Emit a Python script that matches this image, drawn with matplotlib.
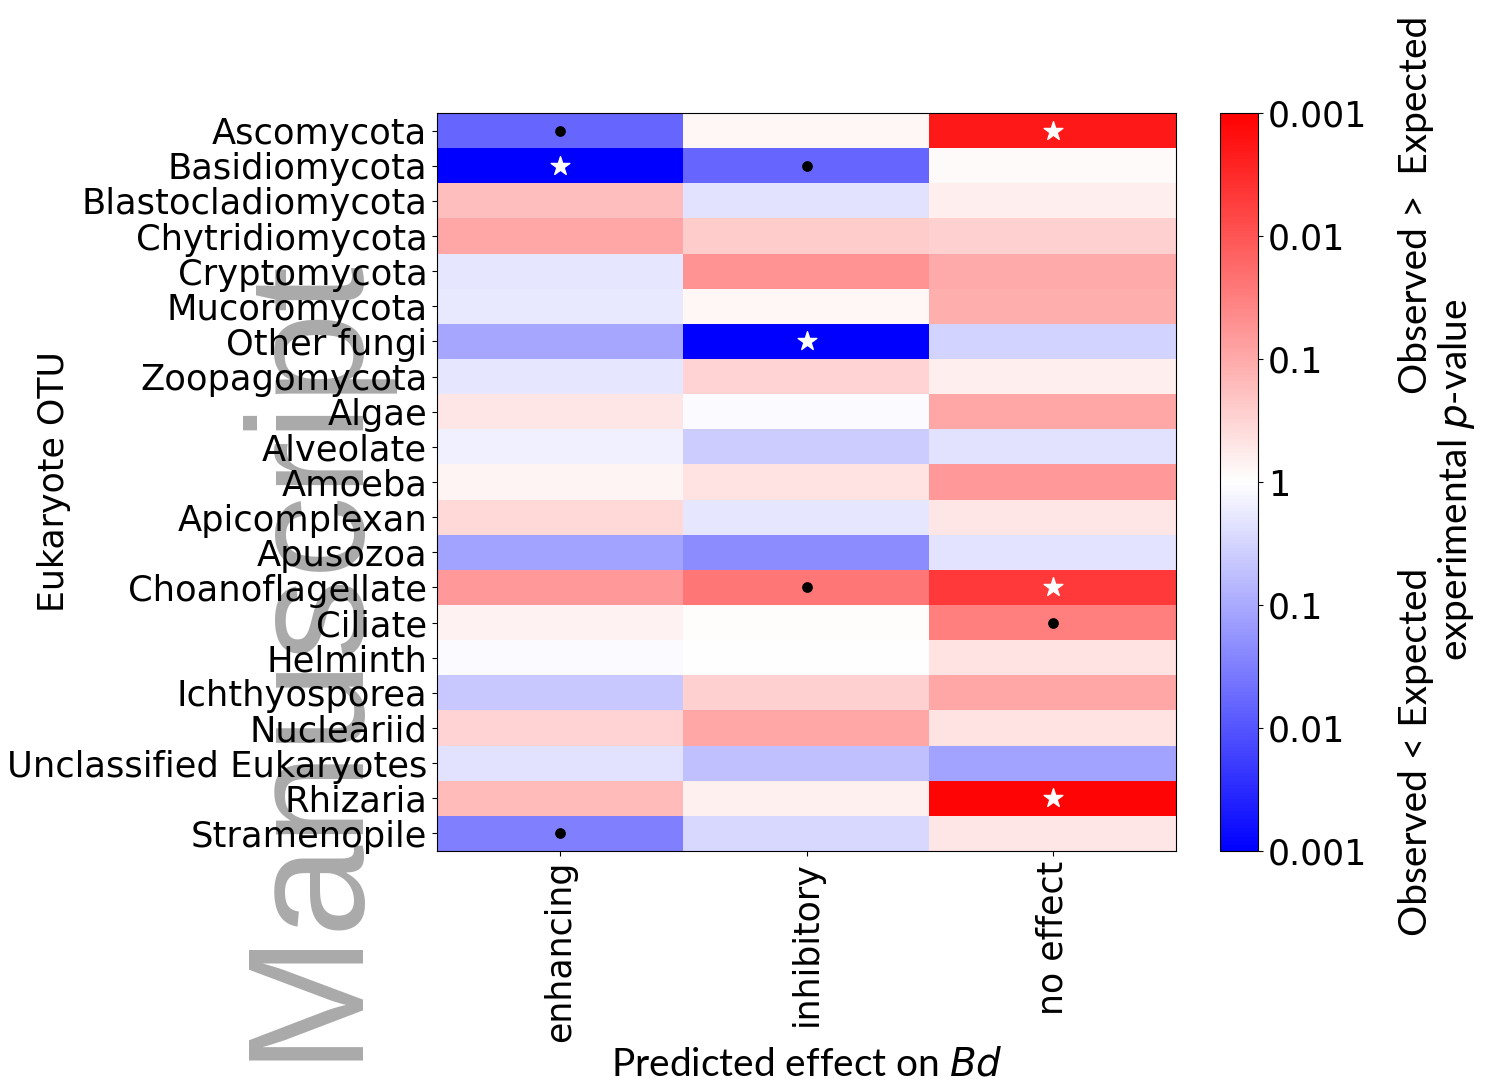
import numpy as np
import matplotlib
matplotlib.use("Agg")
import matplotlib.pyplot as plt

# signed log10 p-values: + means observed > expected, - means observed < expected
taxa = [
    "Ascomycota", "Basidiomycota", "Blastocladiomycota", "Chytridiomycota",
    "Cryptomycota", "Mucoromycota", "Other fungi", "Zoopagomycota", "Algae",
    "Alveolate", "Amoeba", "Apicomplexan", "Apusozoa", "Choanoflagellate",
    "Ciliate", "Helminth", "Ichthyosporea", "Nucleariid",
    "Unclassified Eukaryotes", "Rhizaria", "Stramenopile",
]
effects = ["enhancing", "inhibitory", "no effect"]

enhancing = [-1.8, -3.0, 0.75, 1.05, -0.3, -0.28, -1.05, -0.3, 0.3, -0.18, 0.12,
             0.45, -1.1, 1.2, 0.15, -0.06, -0.65, 0.5, -0.35, 0.8, -1.5]
inhibitory = [0.1, -1.8, -0.35, 0.6, 1.25, 0.1, -3.0, 0.5, -0.06, -0.6, 0.35,
              -0.3, -1.35, 1.6, 0.03, 0.02, 0.55, 1.05, -0.75, 0.18, -0.45]
no_effect = [2.7, 0.05, 0.2, 0.55, 1.0, 0.95, -0.5, 0.2, 1.05, -0.35, 1.2,
             0.3, -0.32, 2.3, 1.5, 0.35, 1.05, 0.35, -1.1, 2.95, 0.3]

# significance marks: "." = dot, "*" = star
sig_enhancing = [".", "*", "", "", "", "", "", "", "", "", "",
                 "", "", "", "", "", "", "", "", "", "."]
sig_inhibitory = ["", ".", "", "", "", "", "*", "", "", "", "",
                  "", "", ".", "", "", "", "", "", "", ""]
sig_no_effect = ["*", "", "", "", "", "", "", "", "", "", "",
                 "", "", "*", ".", "", "", "", "", "*", ""]

cbar_ticks = [-3, -2, -1, 0, 1, 2, 3]
cbar_labels = ["0.001", "0.01", "0.1", "1", "0.1", "0.01", "0.001"]

data = np.array([enhancing, inhibitory, no_effect]).T
sig = np.array([sig_enhancing, sig_inhibitory, sig_no_effect]).T

fig = plt.figure(figsize=(14.89, 10.88), dpi=100)
ax = fig.add_axes([0.2935, 0.2178, 0.4963, 0.6783])
cax = fig.add_axes([0.8193, 0.2178, 0.0255, 0.6783])

im = ax.imshow(data, cmap="bwr", vmin=-3, vmax=3, aspect="auto",
               interpolation="nearest")

rows, cols = np.where(sig == ".")
ax.scatter(cols, rows, marker="o", s=45, color="black", zorder=3)
rows, cols = np.where(sig == "*")
ax.scatter(cols, rows, marker="*", s=200, color="white", zorder=3)

ax.set_yticks(range(len(taxa)))
ax.set_yticklabels(taxa, fontsize=25.4)
ax.set_xticks(range(len(effects)))
ax.set_xticklabels(effects, fontsize=25, rotation=90)
ax.set_ylabel("Eukaryote OTU", fontsize=25)
ax.yaxis.set_label_coords(-0.495, 0.5)
ax.set_xlabel("Predicted effect on $\\it{Bd}$", fontsize=28,
              fontfamily="Lato", labelpad=3)

cb = fig.colorbar(im, cax=cax, ticks=cbar_ticks)
cb.ax.set_yticklabels(cbar_labels, fontsize=25)

side_font = dict(fontsize=28, fontfamily="Lato", rotation=90,
                 ha="center", va="center")
fig.text(0.951, 0.812, "Observed >  Expected", **side_font)
fig.text(0.951, 0.309, "Observed < Expected", **side_font)
fig.text(0.978, 0.559, "experimental $\\it{p}$-value", **side_font)

# author-manuscript watermark
fig.text(350 / 1489, 1 - 1060 / 1088, "Manuscript", fontsize=119,
         fontfamily="Liberation Sans", color="#aaaaaa", rotation=90,
         rotation_mode="anchor", ha="left", va="baseline", zorder=-1)

fig.savefig("out.png", dpi=100)
